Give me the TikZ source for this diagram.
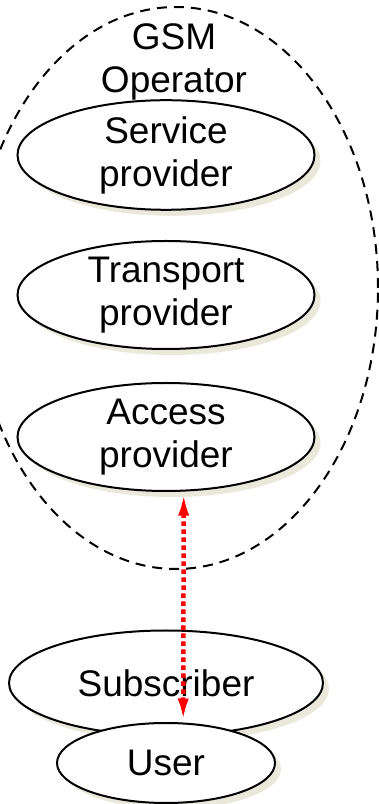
\documentclass[tikz,border=0pt]{standalone}
\usepackage{fontspec}
\setmainfont{Liberation Sans}
\usetikzlibrary{shapes.geometric,shadows,arrows.meta}
\definecolor{shadowbeige}{RGB}{234,231,219}
\definecolor{linkred}{RGB}{255,0,0}

\begin{document}
\begin{tikzpicture}[x=1pt, y=1pt,
	label text/.style={align=center, font=\fontsize{37}{43}\selectfont},
	role/.style={ellipse, draw, line width=2pt, fill=white, inner sep=0pt, label text,
		drop shadow={fill=shadowbeige, opacity=1, shadow xshift=6pt, shadow yshift=-6pt}},
	provider/.style={role, minimum width=297pt, minimum height=108pt}]

		\useasboundingbox (0,0) rectangle (379,804);

		% operator boundary
		\draw[line width=2pt, dash pattern=on 10pt off 7pt] (176,516) ellipse (202pt and 281pt);
		\node[label text] (operator) at (174,742) {GSM\\Operator};

		% operator roles
		\node[provider] (service) at (166,649) {Service\\provider};
		\node[provider] (transport) at (166,509) {Transport\\provider};
		\node[provider] (access) at (166,367) {Access\\provider};

		% subscriber and user
		\node[role, minimum width=314pt, minimum height=105pt] (subscriber) at (166,121) {Subscriber};
		\node[role, minimum width=218pt, minimum height=80pt] (user) at (166,41) {User};

		% access link (dotted, both ways)
		\draw[linkred, line width=4.5pt, dash pattern=on 4.5pt off 3.5pt,
			{Latex[length=24pt,width=11pt]}-{Latex[length=24pt,width=11pt]}] (access.-72.5) -- (user.67);

\end{tikzpicture}
\end{document}
